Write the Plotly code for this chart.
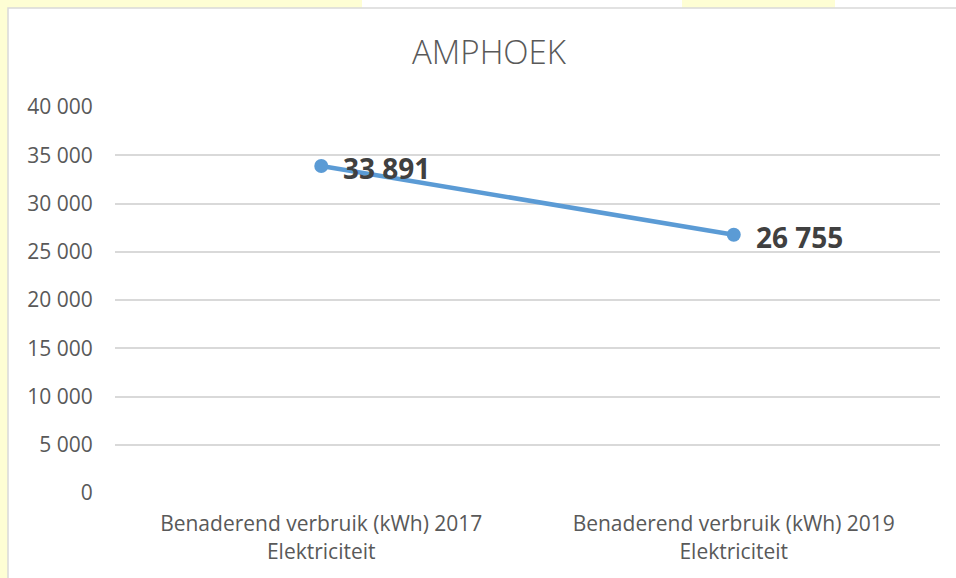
import plotly.graph_objects as go

categories = ["Benaderend verbruik (kWh) 2017<br>Elektriciteit",
              "Benaderend verbruik (kWh) 2019<br>Elektriciteit"]
values = [33891, 26755]
tick_vals = [0, 5000, 10000, 15000, 20000, 25000, 30000, 35000, 40000]
title_text = "AMPHOEK"

W, H = 956, 578
L, R, T, B = 115, 940, 107, 493
FONT = "Open Sans"


def px(x):
    return (x - L) / (R - L)


def py(y):
    return (B - y) / (B - T)


labels = [f"{v:,}".replace(",", " ") for v in values]

fig = go.Figure()
fig.add_trace(go.Scatter(
    x=categories, y=values, mode="lines+markers",
    line=dict(color="#5B9BD5", width=4.5),
    marker=dict(color="#5B9BD5", size=14),
    cliponaxis=False, hoverinfo="skip",
))

annotations = [
    dict(x=c, y=v, xref="x", yref="y", text=t, showarrow=False,
         xanchor="left", yanchor="middle", xshift=20, yshift=-2,
         font=dict(family=FONT, size=28, color="#404040", weight="bold"))
    for c, v, t in zip(categories, values, labels)
]

shapes = [
    dict(type="rect", xref="paper", yref="paper", x0=px(0), x1=px(W), y0=py(H), y1=py(0),
         fillcolor="#FEFED4", line=dict(width=0), layer="below"),
    dict(type="rect", xref="paper", yref="paper", x0=px(362), x1=px(682), y0=py(8), y1=py(0),
         fillcolor="white", line=dict(width=0), layer="below"),
    dict(type="rect", xref="paper", yref="paper", x0=px(835), x1=px(W), y0=py(8), y1=py(0),
         fillcolor="white", line=dict(width=0), layer="below"),
    dict(type="rect", xref="paper", yref="paper", x0=px(8), x1=px(W + 5), y0=py(H + 5), y1=py(8),
         fillcolor="white", line=dict(width=1.5, color="#D9D9D9"), layer="below"),
]

fig.update_layout(
    width=W, height=H,
    margin=dict(l=L, r=W - R, t=T, b=H - B),
    paper_bgcolor="white", plot_bgcolor="rgba(0,0,0,0)",
    separators=", ",
    showlegend=False,
    shapes=shapes,
    annotations=annotations,
    title=dict(text=title_text, x=489 / W, xref="container", xanchor="center",
               y=1 - 52 / H, yref="container", yanchor="middle",
               font=dict(family=FONT, size=33, color="#595959", weight=300)),
    xaxis=dict(showgrid=False, zeroline=False, showline=False,
               ticks="outside", ticklen=12, tickcolor="rgba(0,0,0,0)",
               tickfont=dict(family=FONT, size=21, color="#595959"),
               range=[-0.5, 1.5], fixedrange=True),
    yaxis=dict(range=[0, 40000], tickvals=tick_vals, tickformat=",d",
               showgrid=True, gridcolor="#D9D9D9", gridwidth=1.5,
               zeroline=False, showline=False,
               ticks="outside", ticklen=17, tickcolor="rgba(0,0,0,0)",
               tickfont=dict(family=FONT, size=21, color="#595959"),
               fixedrange=True),
)

fig.write_html("out.html", config={"displayModeBar": False},
               post_script="document.body.style.margin='0';document.body.style.padding='0';")
